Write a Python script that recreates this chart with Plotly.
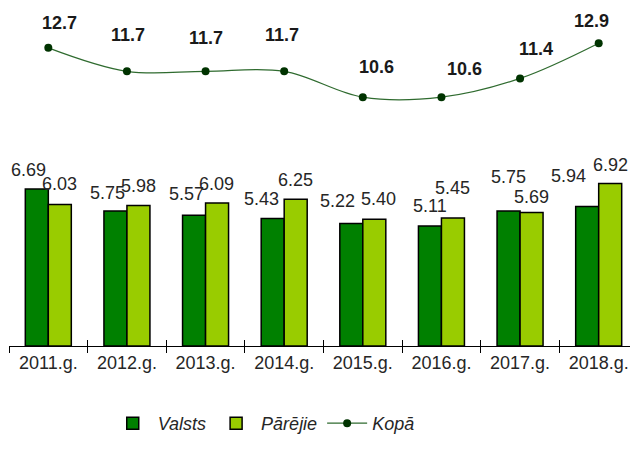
import plotly.graph_objects as go

years = ["2011.g.", "2012.g.", "2013.g.", "2014.g.", "2015.g.", "2016.g.", "2017.g.", "2018.g."]
valsts = [6.69, 5.75, 5.57, 5.43, 5.22, 5.11, 5.75, 5.94]
parejie = [6.03, 5.98, 6.09, 6.25, 5.40, 5.45, 5.69, 6.92]
kopa = [12.7, 11.7, 11.7, 11.7, 10.6, 10.6, 11.4, 12.9]

# label placement tweaks (pixels), mimicking the hand-placed labels of the original
valsts_dx = [-8, -8, -8, -11, -14, 0, 0, -19]
valsts_dy = [19, 18, 21, 20, 22, 20, 34, 31]
parejie_dx = [0, 0, -1, 0, 4, 0, 0, 0]
parejie_dy = [20, 20, 19, 19, 20, 30, 15, 19]
kopa_dx = [11, 1, 0, -2, 14, 23, 16, -7]
kopa_dy = [25, 36, 33, 36, 30, 28, 29, 22]

FONT = "Liberation Sans, Arial, sans-serif"
TXT = "#262626"
half = 0.146

fig = go.Figure()
fig.add_trace(go.Bar(name="Valsts", x=years, y=valsts,
                     marker=dict(color="#008000", line=dict(color="#000000", width=1.5))))
fig.add_trace(go.Bar(name="Pārējie", x=years, y=parejie,
                     marker=dict(color="#99cc00", line=dict(color="#000000", width=1.5))))
fig.add_trace(go.Scatter(name="Kopā", x=years, y=kopa, xaxis="x2", mode="lines+markers",
                         line=dict(color="#2f6b2f", width=1.2, shape="spline", smoothing=1.0),
                         marker=dict(color="#003300", size=8)))

ann = []
for i in range(len(years)):
    ann.append(dict(x=i - half, y=valsts[i], xref="x", yref="y", text=f"{valsts[i]:.2f}",
                    showarrow=False, xshift=valsts_dx[i], yshift=valsts_dy[i],
                    font=dict(family=FONT, size=18, color=TXT)))
    ann.append(dict(x=i + half, y=parejie[i], xref="x", yref="y", text=f"{parejie[i]:.2f}",
                    showarrow=False, xshift=parejie_dx[i], yshift=parejie_dy[i],
                    font=dict(family=FONT, size=18, color=TXT)))
    ann.append(dict(x=i, y=kopa[i], xref="x", yref="y", text=f"<b>{kopa[i]:.1f}</b>",
                    showarrow=False, xshift=kopa_dx[i], yshift=kopa_dy[i],
                    font=dict(family=FONT, size=18, color="#1a1a1a")))

fig.update_layout(
    width=630, height=445,
    margin=dict(l=1, r=0, t=7, b=107),
    paper_bgcolor="white", plot_bgcolor="white",
    barmode="group", bargap=0.415, bargroupgap=0,
    font=dict(family=FONT, size=18, color=TXT),
    xaxis=dict(type="category", categoryorder="array", categoryarray=years,
               showline=True, linecolor="#000000", linewidth=1,
               ticks="outside", ticklen=6, tickcolor="#000000", tickwidth=1,
               tickson="boundaries", showgrid=False, zeroline=False,
               tickfont=dict(family=FONT, size=18, color=TXT), range=[-0.5, 7.5]),
    xaxis2=dict(type="category", categoryorder="array", categoryarray=years,
                overlaying="x", anchor="y", side="bottom", showline=False,
                ticks="inside", ticklen=6, tickcolor="#000000", tickwidth=1,
                tickson="boundaries", showticklabels=False, showgrid=False,
                zeroline=False, range=[-0.5, 7.5]),
    yaxis=dict(range=[0, 14.1], visible=False, showgrid=False, zeroline=False),
    showlegend=True,
    legend=dict(orientation="h", x=0.405, xanchor="center", y=-0.234, yanchor="middle",
                font=dict(family=FONT, size=18, color=TXT, style="italic"),
                itemwidth=40, traceorder="normal", bgcolor="rgba(0,0,0,0)"),
    annotations=ann,
)

fig.write_html("out.html")
